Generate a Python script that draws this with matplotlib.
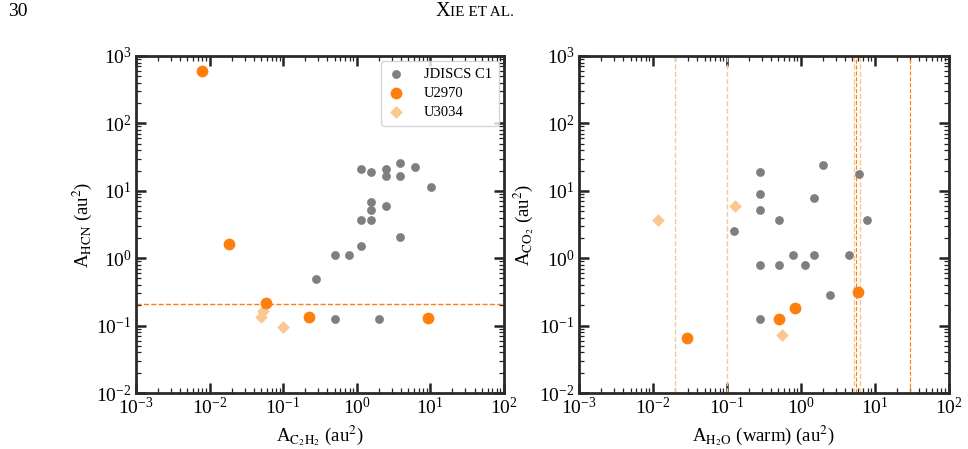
import numpy as np
import matplotlib
matplotlib.use("Agg")
import matplotlib.pyplot as plt

plt.rcParams['font.family'] = 'serif'
plt.rcParams['font.serif'] = ['Liberation Serif', 'DejaVu Serif']
plt.rcParams['mathtext.fontset'] = 'stix'

# ---- left panel: C2H2 vs HCN ----
jd_c2h2 = [1.15, 1.57, 2.53, 2.53, 3.84, 3.84, 6.2, 10.3, 1.57, 1.57, 2.53,
           1.15, 1.57, 3.84, 1.15, 0.50, 0.78, 0.283, 0.50, 2.03]
jd_hcn = [21, 19.3, 21, 16.3, 25.9, 16.3, 22.4, 11.2, 6.9, 5.2, 6.05,
          3.75, 3.75, 2.03, 1.52, 1.11, 1.11, 0.493, 0.124, 0.124]
u2970_c2h2 = [0.0078, 0.0182, 0.058, 0.228, 9.3]
u2970_hcn = [596, 1.65, 0.22, 0.136, 0.13]
u3034_c2h2 = [0.0533, 0.050, 0.099]
u3034_hcn = [0.165, 0.136, 0.094]
hcn_limit = 0.207

# ---- right panel: H2O (warm) vs CO2 ----
jd_h2o = [0.282, 2.03, 6.08, 0.282, 1.53, 0.282, 0.505, 7.96, 0.126,
          0.282, 0.505, 0.78, 1.13, 1.53, 4.45, 2.52, 0.282]
jd_co2 = [19.3, 24.2, 17.8, 8.9, 7.95, 5.2, 3.75, 3.75, 2.52,
          0.78, 0.78, 1.11, 0.78, 1.11, 1.11, 0.28, 0.124]
u2970_h2o = [5.95, 0.83, 0.515, 0.0294]
u2970_co2 = [0.32, 0.183, 0.127, 0.0657]
u3034_h2o = [0.01157, 0.128, 0.559]
u3034_co2 = [3.75, 5.97, 0.0728]
h2o_limits_u3034 = [0.02, 0.1, 5.3, 6.3]
h2o_limits_u2970 = [5.6, 30]

c_gray = '#7f7f7f'
c_orange = '#ff7f0e'
c_light = '#f8c890'

fig = plt.figure(figsize=(9.68, 4.49), dpi=100)
ax1 = fig.add_axes([0.1405, 0.1247, 0.380, 0.7506])
ax2 = fig.add_axes([0.598, 0.1247, 0.382, 0.7506])

ax1.scatter(jd_c2h2, jd_hcn, s=40, color=c_gray, lw=0, label='JDISCS C1', zorder=3)
ax1.scatter(u2970_c2h2, u2970_hcn, s=72, color=c_orange, lw=0, label='U2970', zorder=4)
ax1.scatter(u3034_c2h2, u3034_hcn, s=42, marker='D', color=c_light, lw=0, label='U3034', zorder=3)
ax1.axhline(hcn_limit, color=c_orange, ls='--', lw=1, zorder=2)

ax2.scatter(jd_h2o, jd_co2, s=40, color=c_gray, lw=0, zorder=3)
ax2.scatter(u2970_h2o, u2970_co2, s=72, color=c_orange, lw=0, zorder=4)
ax2.scatter(u3034_h2o, u3034_co2, s=42, marker='D', color=c_light, lw=0, zorder=3)
for v in h2o_limits_u3034:
    ax2.axvline(v, color=c_light, ls='--', lw=1, zorder=2)
for v in h2o_limits_u2970:
    ax2.axvline(v, color=c_orange, ls='--', lw=0.8, zorder=2)

for ax in (ax1, ax2):
    ax.set_xscale('log')
    ax.set_yscale('log')
    ax.set_xlim(1e-3, 1e2)
    ax.set_ylim(1e-2, 1e3)
    ax.tick_params(which='both', direction='in', top=True, right=True,
                   labelsize=14, colors='#222222', labelcolor='black')
    ax.tick_params(which='major', length=7, width=1.8, pad=3)
    ax.tick_params(which='minor', length=3.5, width=0.9)
    for sp in ax.spines.values():
        sp.set_linewidth(2)
        sp.set_color('#2a2a2a')

ax1.set_xlabel(r'A$_{\rm C_2H_2}$ (au$^2$)', fontsize=13.5, labelpad=4)
ax1.set_ylabel(r'A$_{\rm HCN}$ (au$^2$)', fontsize=13.5, labelpad=2)
ax2.set_xlabel(r'A$_{\rm H_2O}$ (warm) (au$^2$)', fontsize=13.5, labelpad=4)
ax2.set_ylabel(r'A$_{\rm CO_2}$ (au$^2$)', fontsize=13.5, labelpad=2)

leg = ax1.legend(loc='upper right', fontsize=10.5, frameon=True, fancybox=True,
                 edgecolor='#cccccc', handlelength=1.2, handletextpad=1.3,
                 borderpad=0.45, labelspacing=0.4, borderaxespad=0.35)

fig.text(8 / 968, 1 - 12 / 449, '30', fontsize=14, ha='left', va='center')
fig.text(450 / 968, 1 - 12 / 449, 'X', fontsize=14.5, ha='right', va='center')
fig.text(450 / 968, 1 - 13 / 449, 'IE ET AL.', fontsize=11, ha='left', va='center')

fig.savefig('out.png', dpi=100)
